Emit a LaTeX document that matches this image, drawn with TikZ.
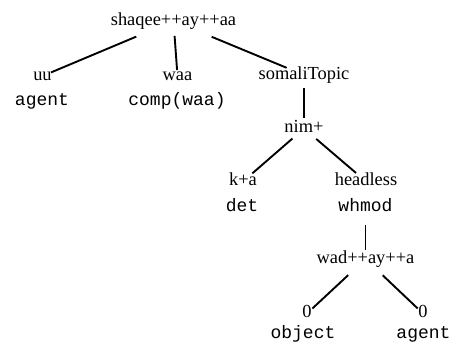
\documentclass[tikz,border=0pt]{standalone}
\usepackage{fontspec}
\setmainfont{Liberation Serif}
\setmonofont{Liberation Mono}
\begin{document}
\begin{tikzpicture}[x=1pt,y=-1pt,
  word/.style={anchor=base,inner sep=0pt,text height=12.5pt,text depth=3.5pt,
    font=\fontsize{18.4}{20}\selectfont},
  feat/.style={anchor=base,inner sep=0pt,text height=12.5pt,text depth=3.5pt,
    font=\fontsize{18}{20}\selectfont\ttfamily},
  edge/.style={line width=1.9pt}]
\useasboundingbox (0,0) rectangle (451,347);

% lexical heads
\node[word] (root) at (173.5,25.5) {shaqee++ay++aa};
\node[word] (uu)   at (42.5,80.5)  {uu};
\node[word] (waa)  at (177.5,80.5) {waa};
\node[word] (topic) at (304,79.5)  {somaliTopic};
\node[word] (nim)  at (304,133)    {nim+};
\node[word] (ka)   at (243,186)    {k+a};
\node[word] (head) at (366,186)    {headless};
\node[word] (wad)  at (365.5,263.5) {wad++ay++a};
\node[word] (zl)   at (307,318)    {0};
\node[word] (zr)   at (423,318)    {0};

% grammatical functions
\node[feat] (fuu)   at (42,106)    {agent};
\node[feat] (fwaa)  at (177,106)   {comp(waa)};
\node[feat] (fka)   at (242,212)   {det};
\node[feat] (fhead) at (365.5,212) {whmod};
\node[feat] (fzl)   at (303,338.5) {object};
\node[feat] (fzr)   at (423.5,338.5) {agent};

% branches
\draw[edge,shorten <=40.4pt,shorten >=9.2pt]  (root.center) -- (uu.center);
\draw[edge,shorten <=15pt,shorten >=6pt]      (root.center) -- (waa.center);
\draw[edge,shorten <=41.3pt,shorten >=18.8pt] (root.center) -- (topic.center);
\draw[edge,shorten <=13.5pt,shorten >=10.2pt] (topic.center) -- (nim.center);
\draw[edge,shorten <=15.3pt,shorten >=12.4pt] (nim.center) -- (ka.center);
\draw[edge,shorten <=16.1pt,shorten >=13.1pt] (nim.center) -- (head.center);
\draw[edge,shorten <=17.5pt,shorten >=9pt]    (fhead.center) -- (wad.center);
\draw[edge,shorten <=23.7pt,shorten >=7.4pt]  (wad.center) -- (zl.center);
\draw[edge,shorten <=23.7pt,shorten >=7.4pt]  (wad.center) -- (zr.center);
\end{tikzpicture}
\end{document}
